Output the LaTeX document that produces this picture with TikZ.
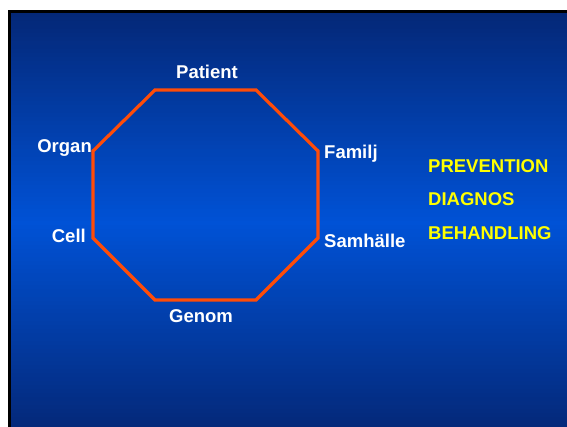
\documentclass[tikz,border=0pt]{standalone}
\usepackage{fontspec}
\setmainfont{Liberation Sans}
\usetikzlibrary{calc,positioning}

\definecolor{slideedge}{RGB}{4,40,120}
\definecolor{slidemid}{RGB}{0,82,214}
\definecolor{ringline}{RGB}{255,76,8}
\definecolor{listyellow}{RGB}{255,255,0}

\tikzset{
  level/.style={text=white, font=\fontsize{18.5}{20}\selectfont\bfseries, inner sep=0pt},
  action/.style={text=listyellow, font=\fontsize{18.5}{20}\selectfont\bfseries, inner sep=0pt, anchor=base west},
  ring/.style={draw=ringline, line width=3.2pt, line join=miter}
}

\begin{document}
\begin{tikzpicture}[x=1pt,y=-1pt]

  \useasboundingbox (0,0) rectangle (567,427);
  \fill[white] (0,0) rectangle (567,427);
  \fill[black] (8,10) rectangle (567,427);

  % slide background, brightest a little below the middle
  \foreach \i in {0,...,103}{
    \pgfmathsetmacro\ytop{13+4*\i}
    \pgfmathsetmacro\mix{max(0,100*(1-abs(\ytop+2-223)/208))}
    \fill[slidemid!\mix!slideedge] (11,\ytop) rectangle (567,\ytop+4.6);
  }

  % corners of the octagon
  \coordinate (v_1) at (155,90);
  \coordinate (v_2) at (256,90);
  \coordinate (v_3) at (318,151);
  \coordinate (v_4) at (318,238);
  \coordinate (v_5) at (256,300);
  \coordinate (v_6) at (155,300);
  \coordinate (v_7) at (93,238);
  \coordinate (v_8) at (93,151);
  \draw[ring] (v_1) -- (v_2) -- (v_3) -- (v_4) -- (v_5) -- (v_6) -- (v_7) -- (v_8) -- cycle;

  \node [level, anchor=base] at (207,79) (patient) {Patient};
  \node [level, anchor=base west] at (324,159) (familj) {Familj};
  \node [level, anchor=base west] at (324,248) (samhalle) {Samhälle};
  \node [level, anchor=base] at (201,323) (genom) {Genom};
  \node [level, anchor=base east] at (86,243) (cell) {Cell};
  \node [level, anchor=base east] at (92,153) (organ) {Organ};

  \node [action] at (428,172.5) (prevention) {PREVENTION};
  \node [action] at (428,206) (diagnos) {DIAGNOS};
  \node [action] at (428,240) (behandling) {BEHANDLING};

\end{tikzpicture}
\end{document}
